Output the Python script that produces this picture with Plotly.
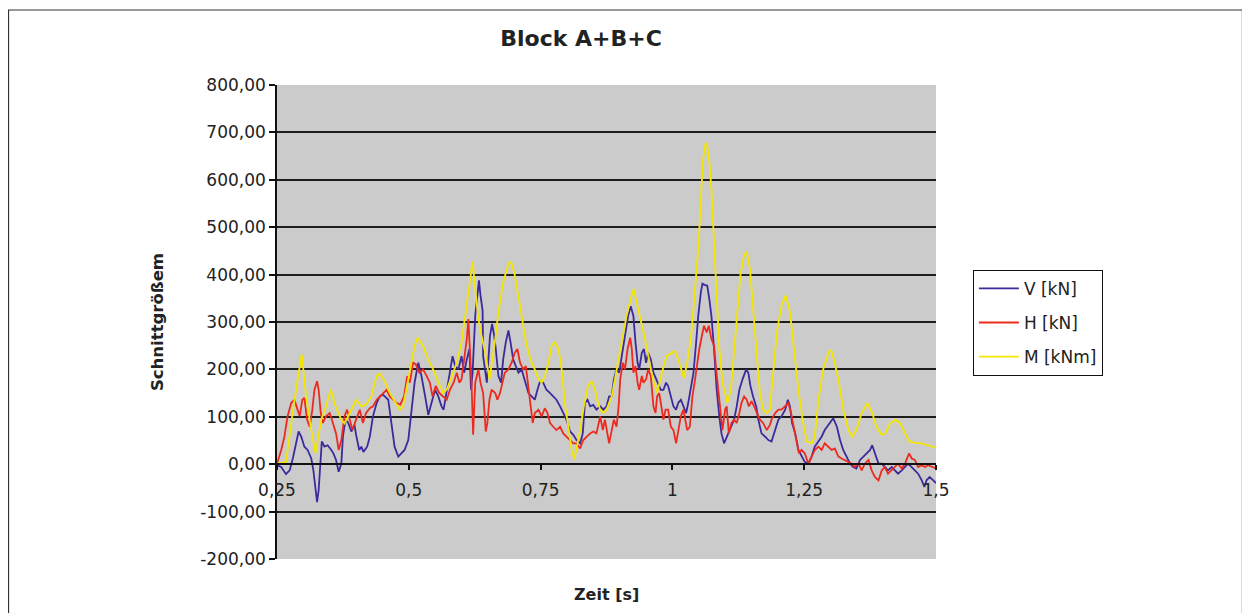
import plotly.graph_objects as go

# ---- data (time [s], value) ----
V_points = [(0.250,-2),(0.258,-6),(0.267,-21),(0.274,-13),(0.280,12),(0.286,44),(0.291,69),(0.296,58),(0.302,37),(0.308,30),(0.315,12),(0.319,-13),(0.323,-55),(0.326,-80),(0.329,-55),(0.333,16),(0.335,48),(0.340,37),(0.346,40),(0.353,30),(0.357,23),(0.362,9),(0.367,-16),(0.372,1),(0.375,58),(0.380,94),(0.385,87),(0.391,69),(0.397,83),(0.400,62),(0.406,30),(0.410,37),(0.414,26),(0.421,37),(0.426,58),(0.432,101),(0.439,129),(0.445,143),(0.451,147),(0.461,136),(0.467,87),(0.473,37),(0.480,16),(0.486,23),(0.492,30),(0.499,51),(0.505,115),(0.511,172),(0.518,214),(0.524,186),(0.531,143),(0.537,104),(0.543,129),(0.550,157),(0.556,143),(0.562,122),(0.566,115),(0.572,157),(0.578,200),(0.583,228),(0.588,207),(0.594,200),(0.600,228),(0.605,193),(0.610,221),(0.615,243),(0.618,157),(0.621,193),(0.626,313),(0.630,356),(0.633,388),(0.636,356),(0.640,324),(0.641,228),(0.645,193),(0.648,172),(0.651,221),(0.654,271),(0.658,296),(0.662,271),(0.665,243),(0.670,186),(0.675,172),(0.679,221),(0.684,257),(0.689,282),(0.693,257),(0.698,221),(0.703,207),(0.708,193),(0.714,200),(0.720,179),(0.727,150),(0.733,143),(0.739,136),(0.744,157),(0.749,175),(0.755,172),(0.761,157),(0.768,150),(0.774,143),(0.780,136),(0.787,122),(0.793,108),(0.799,94),(0.806,69),(0.812,62),(0.818,51),(0.825,44),(0.830,65),(0.834,129),(0.839,136),(0.844,122),(0.850,125),(0.856,115),(0.863,122),(0.869,115),(0.875,122),(0.880,143),(0.885,143),(0.889,179),(0.894,200),(0.899,193),(0.904,228),(0.910,271),(0.916,313),(0.921,333),(0.926,313),(0.930,257),(0.934,214),(0.937,200),(0.942,235),(0.946,243),(0.950,214),(0.954,235),(0.959,221),(0.964,193),(0.969,179),(0.973,172),(0.978,157),(0.983,157),(0.988,172),(0.992,165),(0.997,143),(1.002,122),(1.007,115),(1.011,129),(1.016,136),(1.021,122),(1.026,108),(1.030,129),(1.035,157),(1.040,193),(1.045,257),(1.049,313),(1.054,363),(1.057,381),(1.062,378),(1.066,377),(1.070,349),(1.074,313),(1.079,243),(1.084,157),(1.089,101),(1.093,65),(1.098,44),(1.103,58),(1.108,69),(1.112,79),(1.117,94),(1.122,122),(1.127,157),(1.133,179),(1.140,200),(1.144,193),(1.148,165),(1.153,143),(1.159,122),(1.163,94),(1.169,65),(1.176,58),(1.182,51),(1.188,48),(1.195,72),(1.201,94),(1.207,101),(1.214,115),(1.219,136),(1.223,122),(1.227,87),(1.233,65),(1.239,30),(1.245,16),(1.251,5),(1.258,1),(1.264,16),(1.270,37),(1.277,48),(1.283,58),(1.289,72),(1.296,83),(1.302,94),(1.305,97),(1.312,79),(1.318,51),(1.324,30),(1.330,16),(1.337,1),(1.343,-6),(1.349,-9),(1.356,9),(1.362,16),(1.368,23),(1.375,30),(1.379,40),(1.384,23),(1.391,1),(1.397,1),(1.403,-6),(1.409,-13),(1.416,-6),(1.422,-13),(1.428,-20),(1.435,-13),(1.441,-6),(1.447,1),(1.454,-6),(1.460,-13),(1.466,-20),(1.473,-34),(1.478,-48),(1.482,-34),(1.488,-27),(1.495,-34),(1.500,-40)]

H_points = [(0.250,1),(0.258,30),(0.264,58),(0.270,101),(0.277,129),(0.283,136),(0.287,122),(0.293,101),(0.298,136),(0.302,140),(0.307,94),(0.312,79),(0.317,115),(0.321,157),(0.326,175),(0.329,157),(0.333,108),(0.337,87),(0.343,101),(0.350,108),(0.356,87),(0.362,65),(0.367,30),(0.372,51),(0.378,101),(0.383,115),(0.388,94),(0.393,72),(0.400,94),(0.407,115),(0.413,87),(0.419,108),(0.426,118),(0.432,122),(0.439,136),(0.445,143),(0.451,150),(0.458,157),(0.464,143),(0.470,136),(0.477,129),(0.484,126),(0.491,143),(0.497,186),(0.502,172),(0.508,214),(0.513,211),(0.520,193),(0.527,200),(0.534,186),(0.540,172),(0.545,143),(0.551,165),(0.558,150),(0.566,143),(0.572,136),(0.578,157),(0.585,172),(0.591,193),(0.596,172),(0.600,179),(0.605,221),(0.610,264),(0.613,306),(0.616,243),(0.619,172),(0.622,62),(0.626,172),(0.629,186),(0.632,200),(0.636,172),(0.641,150),(0.646,69),(0.649,87),(0.653,136),(0.657,157),(0.664,150),(0.668,136),(0.673,150),(0.678,172),(0.682,193),(0.689,200),(0.695,214),(0.701,235),(0.706,243),(0.711,214),(0.717,200),(0.722,207),(0.727,165),(0.731,122),(0.735,87),(0.739,108),(0.746,115),(0.752,101),(0.758,118),(0.763,108),(0.768,87),(0.774,79),(0.780,72),(0.787,79),(0.793,65),(0.799,58),(0.806,51),(0.812,44),(0.818,44),(0.825,33),(0.831,51),(0.837,58),(0.844,65),(0.850,69),(0.856,65),(0.863,101),(0.868,72),(0.872,94),(0.877,65),(0.880,44),(0.885,72),(0.889,94),(0.894,79),(0.898,122),(0.901,179),(0.906,214),(0.910,200),(0.915,243),(0.920,267),(0.923,243),(0.926,193),(0.930,207),(0.934,172),(0.937,157),(0.942,186),(0.945,172),(0.950,179),(0.954,200),(0.959,186),(0.964,122),(0.968,108),(0.971,143),(0.975,150),(0.980,108),(0.983,94),(0.987,115),(0.992,115),(0.997,79),(1.002,72),(1.007,44),(1.011,72),(1.016,101),(1.021,115),(1.025,87),(1.028,72),(1.033,79),(1.038,143),(1.043,179),(1.046,207),(1.051,243),(1.056,271),(1.060,292),(1.065,278),(1.069,292),(1.074,264),(1.079,250),(1.083,200),(1.087,157),(1.092,115),(1.095,72),(1.100,115),(1.103,122),(1.107,65),(1.112,87),(1.117,94),(1.122,87),(1.127,108),(1.131,129),(1.136,143),(1.141,136),(1.145,122),(1.150,133),(1.155,122),(1.160,108),(1.166,94),(1.172,87),(1.179,72),(1.185,83),(1.188,94),(1.195,108),(1.201,115),(1.207,115),(1.214,122),(1.220,129),(1.225,108),(1.231,72),(1.236,44),(1.240,23),(1.245,30),(1.251,23),(1.258,1),(1.264,16),(1.270,30),(1.277,37),(1.283,30),(1.289,44),(1.296,37),(1.302,30),(1.308,33),(1.315,16),(1.321,12),(1.327,9),(1.334,5),(1.340,1),(1.346,-6),(1.353,1),(1.359,-13),(1.365,1),(1.372,9),(1.378,-13),(1.384,-27),(1.391,-34),(1.397,-13),(1.403,-6),(1.409,-20),(1.416,-13),(1.422,-6),(1.428,1),(1.435,-9),(1.441,1),(1.449,23),(1.454,12),(1.460,9),(1.466,-6),(1.473,-2),(1.479,-6),(1.485,-2),(1.492,-6),(1.500,-9)]

M_points = [(0.250,1),(0.267,5),(0.277,86),(0.286,157),(0.297,232),(0.305,143),(0.315,72),(0.323,23),(0.334,94),(0.343,122),(0.352,157),(0.361,122),(0.372,94),(0.378,86),(0.388,108),(0.400,136),(0.410,122),(0.419,126),(0.429,143),(0.439,186),(0.445,191),(0.454,175),(0.464,150),(0.473,133),(0.483,115),(0.489,122),(0.497,165),(0.505,214),(0.511,250),(0.517,267),(0.527,250),(0.537,221),(0.546,200),(0.556,172),(0.565,150),(0.572,157),(0.581,186),(0.591,214),(0.600,257),(0.607,313),(0.613,370),(0.621,427),(0.626,370),(0.632,306),(0.638,271),(0.645,235),(0.653,179),(0.657,207),(0.664,264),(0.670,321),(0.679,384),(0.689,423),(0.694,427),(0.701,399),(0.708,356),(0.714,313),(0.720,271),(0.727,235),(0.733,214),(0.739,200),(0.746,179),(0.752,172),(0.758,186),(0.765,214),(0.771,250),(0.777,257),(0.784,243),(0.790,200),(0.796,129),(0.803,72),(0.809,30),(0.814,10),(0.818,30),(0.825,72),(0.832,122),(0.840,165),(0.847,175),(0.853,157),(0.859,129),(0.863,115),(0.869,108),(0.875,115),(0.885,143),(0.894,200),(0.904,264),(0.913,313),(0.921,349),(0.927,370),(0.932,342),(0.940,306),(0.948,264),(0.958,207),(0.965,172),(0.971,150),(0.980,193),(0.989,228),(0.999,235),(1.005,239),(1.011,221),(1.018,193),(1.022,182),(1.028,214),(1.035,264),(1.040,328),(1.045,400),(1.050,470),(1.054,560),(1.058,640),(1.062,672),(1.064,678),(1.066,672),(1.070,640),(1.074,580),(1.078,495),(1.083,394),(1.089,243),(1.095,172),(1.104,129),(1.111,157),(1.117,243),(1.123,328),(1.129,399),(1.136,441),(1.141,448),(1.147,413),(1.153,328),(1.160,228),(1.166,150),(1.172,115),(1.179,108),(1.185,115),(1.191,186),(1.198,278),(1.207,335),(1.215,356),(1.223,321),(1.231,243),(1.239,157),(1.248,86),(1.255,48),(1.264,44),(1.270,58),(1.277,136),(1.286,200),(1.296,235),(1.301,241),(1.308,214),(1.316,172),(1.324,115),(1.334,72),(1.341,58),(1.349,72),(1.359,108),(1.370,129),(1.379,108),(1.387,79),(1.397,62),(1.404,65),(1.413,86),(1.423,94),(1.432,86),(1.441,65),(1.449,48),(1.460,45),(1.473,44),(1.485,40),(1.495,37),(1.500,35)]

series_names = ["V [kN]", "H [kN]", "M [kNm]"]
series_colors = ["#3c2a9c", "#ee2a1e", "#f4e600"]

x_tickvals = [0.25, 0.5, 0.75, 1.0, 1.25, 1.5]
x_ticktext = ["0,25", "0,5", "0,75", "1", "1,25", "1,5"]
y_tickvals = [-200, -100, 0, 100, 200, 300, 400, 500, 600, 700, 800]
y_ticktext = ["-200,00", "-100,00", "0,00", "100,00", "200,00", "300,00",
              "400,00", "500,00", "600,00", "700,00", "800,00"]
grid_vals = [-100, 0, 100, 200, 300, 400, 500, 600, 700]

FONT = "DejaVu Sans"
TXT = "#222222"

fig = go.Figure()
for name, color, pts in zip(series_names, series_colors, [V_points, H_points, M_points]):
    t = [p[0] for p in pts]
    v = [p[1] for p in pts]
    fig.add_trace(go.Scatter(x=t, y=v, mode="lines", name=name, legendgroup=name,
                             line=dict(color=color, width=1.8)))

# empty trace so that the labelled left axis (y2) is rendered
fig.add_trace(go.Scatter(x=[], y=[], yaxis="y2", showlegend=False, hoverinfo="skip"))

fig.update_layout(
    width=1250, height=613,
    margin=dict(l=269, r=322, t=77, b=62),
    paper_bgcolor="white",
    plot_bgcolor="#cbcbcb",
    font=dict(family=FONT, size=17, color=TXT),
    title=dict(text="<b>Block A+B+C</b>", x=573 / 1250, xanchor="center",
               y=1 - 30 / 613, yanchor="middle", yref="container",
               font=dict(family=FONT, size=22, color=TXT)),
    showlegend=True,
    legend=dict(x=1.056, y=0.61, xanchor="left", yanchor="top",
                bgcolor="white", bordercolor="#111111", borderwidth=1,
                font=dict(family=FONT, size=17, color=TXT),
                tracegroupgap=9, itemwidth=40),
    xaxis=dict(range=[0.25, 1.5], tickvals=x_tickvals, ticktext=x_ticktext,
               anchor="free", position=0.2, showgrid=False, zeroline=False,
               showline=True, linecolor="#111111", linewidth=1.5,
               ticks="outside", ticklen=5, tickcolor="#111111", tickwidth=1.5,
               ticklabelstandoff=6,
               tickfont=dict(family=FONT, size=17, color=TXT)),
    yaxis=dict(range=[-200, 800], domain=[0, 1], tickvals=grid_vals,
               showticklabels=False, ticks="", showgrid=True,
               gridcolor="#1c1c1c", gridwidth=1.8, zeroline=False, showline=False),
    yaxis2=dict(range=[-200, 800], overlaying="y", side="left", anchor="x",
                tickvals=y_tickvals, ticktext=y_ticktext, showgrid=False,
                zeroline=False, showline=True, linecolor="#111111", linewidth=1.5,
                ticks="outside", ticklen=6, tickcolor="#111111", tickwidth=1.5,
                tickfont=dict(family=FONT, size=17, color=TXT)),
    annotations=[
        dict(text="<b>Schnittgrößem</b>", xref="paper", yref="paper",
             x=-0.182, y=0.5, xanchor="center", yanchor="middle", textangle=-90,
             showarrow=False, font=dict(family=FONT, size=16.5, color=TXT)),
        dict(text="<b>Zeit [s]</b>", xref="paper", yref="paper",
             x=0.5, y=-0.074, xanchor="center", yanchor="middle",
             showarrow=False, font=dict(family=FONT, size=16, color=TXT)),
    ],
    shapes=[
        dict(type="rect", xref="paper", yref="paper",
             x0=-0.4074, x1=1.4650, y0=-0.2, y1=1.1582,
             line=dict(color="#333333", width=1.2), fillcolor="rgba(0,0,0,0)",
             layer="below"),
    ],
)

fig.write_html("out.html")
